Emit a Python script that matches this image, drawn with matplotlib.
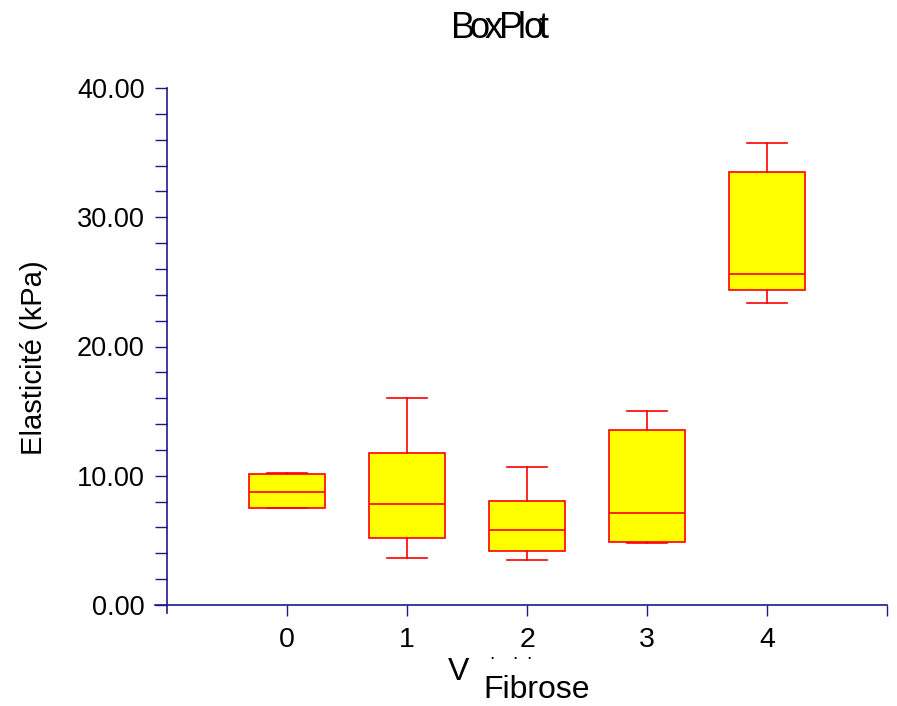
import matplotlib
matplotlib.use("Agg")
import matplotlib.pyplot as plt
from matplotlib.ticker import MultipleLocator, FixedLocator
from matplotlib.lines import Line2D

categories = ["0", "1", "2", "3", "4"]
whislo = [7.5, 3.64, 3.48, 4.80, 23.37]
q1 = [7.5, 5.18, 4.18, 4.87, 24.37]
med = [8.74, 7.81, 5.80, 7.12, 25.60]
q3 = [10.14, 11.76, 8.05, 13.54, 33.50]
whishi = [10.2, 16.0, 10.68, 15.0, 35.74]
yticks = [0, 10, 20, 30, 40]
ytick_labels = ["0.00", "10.00", "20.00", "30.00", "40.00"]

plt.rcParams['font.family'] = ['Liberation Sans', 'DejaVu Sans']
navy = "#1a1a8c"
W, H = 897, 706

fig = plt.figure(figsize=(W / 100, H / 100), dpi=100)
ax = fig.add_axes([167 / W, 1 - 605 / H, 720 / W, 517 / H])

stats = []
for i, c in enumerate(categories):
    stats.append(dict(label=c, whislo=whislo[i], q1=q1[i], med=med[i],
                      q3=q3[i], whishi=whishi[i], fliers=[]))
ax.bxp(stats, positions=range(len(categories)), widths=0.64,
       patch_artist=True, showfliers=False,
       boxprops=dict(facecolor="#ffff00", edgecolor="#ff0000", linewidth=1.2),
       medianprops=dict(color="#ff0000", linewidth=1.2),
       whiskerprops=dict(color="#ff0000", linewidth=1.2),
       capprops=dict(color="#ff0000", linewidth=1.2),
       capwidths=0.33)

ax.set_xlim(-1, 5)
ax.set_ylim(0, 40)
ax.set_yticks(yticks)
ax.set_yticklabels(ytick_labels)
ax.yaxis.set_minor_locator(MultipleLocator(2))
ax.xaxis.set_major_locator(FixedLocator([0, 1, 2, 3, 4, 5]))
ax.set_xticklabels(categories + [""])

for s in ax.spines.values():
    s.set_visible(False)
# axis lines (extend slightly past the origin, as in the reference)
ax.add_line(Line2D([0, 0], [-8 / 517, 1], transform=ax.transAxes,
                   color=navy, lw=1.2, clip_on=False))
ax.add_line(Line2D([-12 / 720, 1], [0, 0], transform=ax.transAxes,
                   color=navy, lw=1.2, clip_on=False))

ax.tick_params(axis="y", which="major", direction="out", length=9, width=1.0,
               color=navy, labelsize=19.5, pad=7)
ax.tick_params(axis="y", which="minor", direction="out", length=9, width=1.0, color=navy)
ax.tick_params(axis="x", which="major", direction="out", length=8, width=1.0,
               color=navy, labelsize=20.5, pad=8)

ax.set_ylabel("Elasticité (kPa)", fontsize=21)
ax.yaxis.set_label_coords((48 - 167) / 720, (605 - 358) / 517)

# Condensed title, drawn character by character
title = "BoxPlot"
adv = {"B": 0.667, "o": 0.556, "x": 0.5, "P": 0.667, "l": 0.222, "t": 0.278}
em = 36.0
squeeze = 0.77
x = 451.0
for ch in title:
    fig.text(x / W, 1 - 38 / H, ch, ha="left", va="baseline", fontsize=26)
    x += adv[ch] * em * squeeze

fig.text(448 / W, 1 - 680 / H, "V", ha="left", va="baseline", fontsize=23)
for dx in [492, 515, 529]:
    fig.text(dx / W, 1 - 659 / H, ".", ha="center", va="baseline", fontsize=14)
fig.text(537 / W, 1 - 698 / H, "Fibrose", ha="center", va="baseline", fontsize=23)

fig.savefig("out.png", dpi=100)
